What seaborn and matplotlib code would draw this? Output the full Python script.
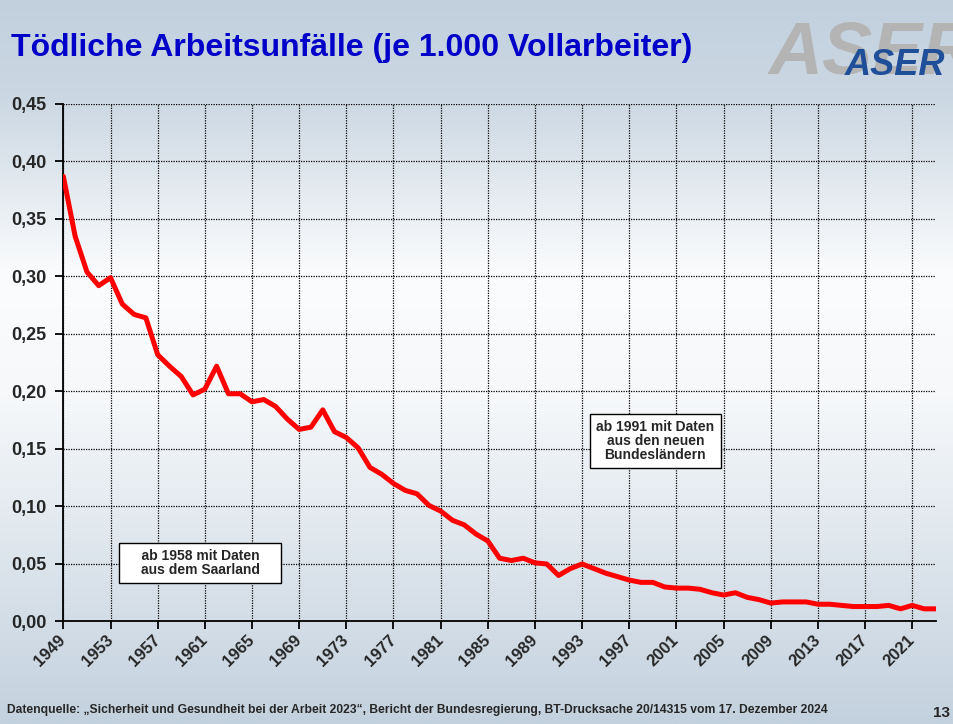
import numpy as np
import pandas as pd
import matplotlib
matplotlib.use('Agg')
import matplotlib.pyplot as plt
from matplotlib.colors import LinearSegmentedColormap
from matplotlib.ticker import FuncFormatter
import seaborn as sns

# ── DATA ──────────────────────────────────────────────────────────────────────
years = list(range(1949, 2024))
rate = [
    0.387, 0.335, 0.304, 0.292, 0.299, 0.276, 0.267, 0.264, 0.232, 0.222,  # 1949-1958
    0.213, 0.197, 0.202, 0.222, 0.198, 0.198, 0.191, 0.193, 0.187, 0.176,  # 1959-1968
    0.167, 0.169, 0.184, 0.165, 0.160, 0.151, 0.134, 0.128, 0.120, 0.114,  # 1969-1978
    0.111, 0.101, 0.096, 0.088, 0.084, 0.076, 0.070, 0.055, 0.053, 0.055,  # 1979-1988
    0.051, 0.050, 0.040, 0.046, 0.050, 0.046, 0.042, 0.039, 0.036, 0.034,  # 1989-1998
    0.034, 0.030, 0.029, 0.029, 0.028, 0.025, 0.023, 0.025, 0.021, 0.019,  # 1999-2008
    0.016, 0.017, 0.017, 0.017, 0.015, 0.015, 0.014, 0.013, 0.013, 0.013,  # 2009-2018
    0.014, 0.011, 0.014, 0.011, 0.011,                                      # 2019-2023
]
tick_years = list(range(1949, 2024, 4))
y_ticks = [0.00, 0.05, 0.10, 0.15, 0.20, 0.25, 0.30, 0.35, 0.40, 0.45]

title = 'Tödliche Arbeitsunfälle (je 1.000 Vollarbeiter)'
note_saar = '    ab 1958 mit Daten    \naus dem Saarland'
note_ost = 'ab 1991 mit Daten\naus den neuen\nBundesländern'
source = ('Datenquelle: \u201eSicherheit und Gesundheit bei der Arbeit 2023\u201c, '
          'Bericht der Bundesregierung, BT-Drucksache 20/14315 vom 17. Dezember 2024')

df = pd.DataFrame({'Jahr': years, 'Rate': rate})

# ── STYLE ─────────────────────────────────────────────────────────────────────
sns.set_theme(style='white')
plt.rcParams['font.family'] = ['Liberation Sans', 'DejaVu Sans']

fig = plt.figure(figsize=(9.54, 7.24), dpi=100)

# background gradient
bg = fig.add_axes([0, 0, 1, 1])
bg.set_axis_off()
cmap = LinearSegmentedColormap.from_list('bg', [
    (0.00, '#c2d0de'),
    (0.14, '#ccd8e3'),
    (0.38, '#fbfcfd'),
    (0.55, '#f6f8fa'),
    (1.00, '#c3d1de'),
])
bg.imshow(np.linspace(0, 1, 256).reshape(-1, 1), aspect='auto', cmap=cmap,
          extent=[0, 1, 0, 1])

ax = fig.add_axes([0.0664, 0.1416, 0.9146, 0.7148])
ax.set_facecolor('none')

sns.lineplot(data=df, x='Jahr', y='Rate', ax=ax, color='#ff0000', linewidth=3.6,
             zorder=5)

ax.set_xlim(1949, 2023)
ax.set_ylim(0, 0.45)
ax.set_xticks(tick_years)
ax.set_yticks(y_ticks)
ax.yaxis.set_major_formatter(FuncFormatter(lambda v, p: f'{v:.2f}'.replace('.', ',')))
ax.set_xlabel('')
ax.set_ylabel('')

ax.grid(True, color='black', linestyle=(0, (1, 1)), linewidth=0.9)
for s in ['top', 'right']:
    ax.spines[s].set_visible(False)
for s in ['left', 'bottom']:
    ax.spines[s].set_color('black')
    ax.spines[s].set_linewidth(1.3)

ax.tick_params(axis='both', which='major', direction='out', length=6, width=1.3,
               color='black', left=True, bottom=True)
ax.tick_params(axis='y', labelsize=13, pad=6)
ax.tick_params(axis='x', labelsize=12, pad=6)
for lab in ax.get_yticklabels():
    lab.set_fontweight('bold')
for lab in ax.get_xticklabels():
    lab.set_fontweight('bold')
    lab.set_rotation(45)
    lab.set_ha('right')
    lab.set_va('center')
    lab.set_rotation_mode('anchor')

box = dict(boxstyle='square,pad=0.45', facecolor='white', edgecolor='black', linewidth=1.0)
ax.text(1960.6, 0.0509, note_saar, ha='center', va='center', fontsize=10,
        fontweight='bold', bbox=box, zorder=6, linespacing=1.0)
ax.text(1999.2, 0.157, note_ost, ha='center', va='center', fontsize=10,
        fontweight='bold', bbox=box, zorder=6, linespacing=1.0)

# ── TITLE, LOGO, FOOTER ───────────────────────────────────────────────────────
fig.text(0.012, 0.9227, title, color='#0000c8', fontsize=23, fontweight='bold',
         ha='left', va='baseline')
fig.text(0.806, 0.898, 'ASER', color='#b4b4b4', fontsize=54, fontweight='bold',
         style='italic', ha='left', va='baseline')
fig.text(0.9906, 0.8964, 'ASER', color='#1f4f99', fontsize=26, fontweight='bold',
         style='italic', ha='right', va='baseline')
fig.text(0.007, 0.019, source, fontsize=8.7, fontweight='bold', ha='left', va='center')
fig.text(0.996, 0.015, '13', fontsize=11, fontweight='bold', ha='right', va='center')

fig.savefig('out.png', dpi=100)
